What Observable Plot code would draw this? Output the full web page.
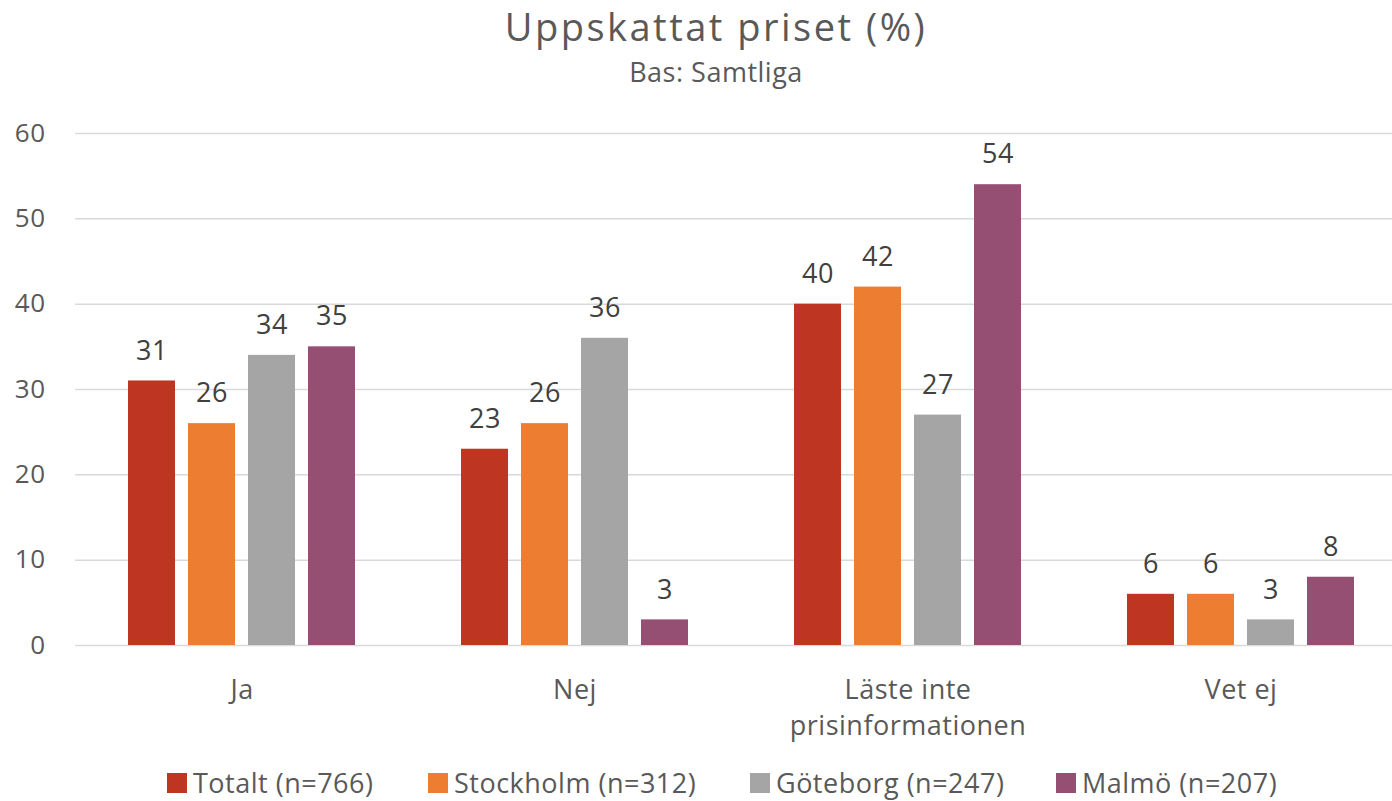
<!DOCTYPE html>
<html>
<head>
<meta charset="utf-8">
<script src="https://cdn.jsdelivr.net/npm/d3@7"></script>
<script src="https://cdn.jsdelivr.net/npm/@observablehq/plot@0.6"></script>
<style>
  html, body { margin: 0; padding: 0; background: #fff; }
  #wrap { position: relative; width: 1392px; height: 801px; font-family: "Open Sans", Lato, sans-serif; overflow: hidden; }
  #title { position: absolute; top: 0px; left: 0; width: 1432px; text-align: center; font-size: 38px; letter-spacing: 2.5px; line-height: normal; color: #595959; }
  #subtitle { position: absolute; top: 58px; left: 0; width: 1432px; text-align: center; font-size: 27px; letter-spacing: 0.5px; line-height: 1; color: #595959; }
  #chart { position: absolute; top: 0; left: 0; }
  #chart svg { max-width: none !important; }
  .item { position: absolute; top: 769px; display: flex; align-items: center; gap: 6px; font-size: 27px; letter-spacing: 0.5px; line-height: 1; color: #595959; }
  .sw { width: 20px; height: 20px; display: inline-block; }
</style>
</head>
<body>
<div id="wrap">
  <div id="chart"></div>
  <div id="title">Uppskattat priset (%)</div>
  <div id="subtitle">Bas: Samtliga</div>
  <div id="legend"></div>
</div>
<script>
const categories = ["Ja", "Nej", "Läste inte\nprisinformationen", "Vet ej"];
const series = ["Totalt (n=766)", "Stockholm (n=312)", "Göteborg (n=247)", "Malmö (n=207)"];
const totalt = [31, 23, 40, 6];
const stockholm = [26, 26, 42, 6];
const goteborg = [34, 36, 27, 3];
const malmo = [35, 3, 54, 8];
const colors = ["#be3621", "#ed7d31", "#a5a5a5", "#954f72"];
const yTicks = [0, 10, 20, 30, 40, 50, 60];

const seriesValues = [totalt, stockholm, goteborg, malmo];
const data = [];
categories.forEach((c, i) => {
  series.forEach((s, j) => {
    data.push({cat: c, series: s, value: seriesValues[j][i]});
  });
});

const chart = Plot.plot({
  width: 1407,
  height: 801,
  marginTop: 133,
  marginBottom: 156,
  marginLeft: 75,
  marginRight: 0,
  style: {fontFamily: "'Open Sans', Lato, sans-serif", background: "transparent", letterSpacing: "0.5px", maxWidth: "none"},
  fx: {domain: categories, padding: 0, label: null},
  x: {domain: series, paddingInner: 0.21, paddingOuter: 0.848, axis: null},
  y: {domain: [0, 60], label: null},
  color: {domain: series, range: colors},
  marks: [
    Plot.gridY(yTicks, {stroke: "#d9d9d9", strokeOpacity: 1, strokeWidth: 1.5}),
    Plot.barY(data, {fx: "cat", x: "series", y: "value", fill: "series"}),
    Plot.text(data, {fx: "cat", x: "series", y: "value", text: d => String(d.value), dy: -30, fontSize: 27, fill: "#404040"}),
    Plot.axisY(yTicks, {tickSize: 0, tickPadding: 30, fontSize: 26, color: "#595959", label: null}),
    Plot.axisFx({anchor: "bottom", tickSize: 0, tickPadding: 29, fontSize: 27, lineHeight: 1.3, color: "#595959", label: null})
  ]
});
document.getElementById("chart").appendChild(chart);

const legendLeft = [167, 428, 750, 1056];
const legend = document.getElementById("legend");
series.forEach((s, j) => {
  const it = document.createElement("div");
  it.className = "item";
  it.style.left = legendLeft[j] + "px";
  const sw = document.createElement("span");
  sw.className = "sw";
  sw.style.background = colors[j];
  const t = document.createElement("span");
  t.textContent = s;
  it.appendChild(sw);
  it.appendChild(t);
  legend.appendChild(it);
});
</script>
</body>
</html>
